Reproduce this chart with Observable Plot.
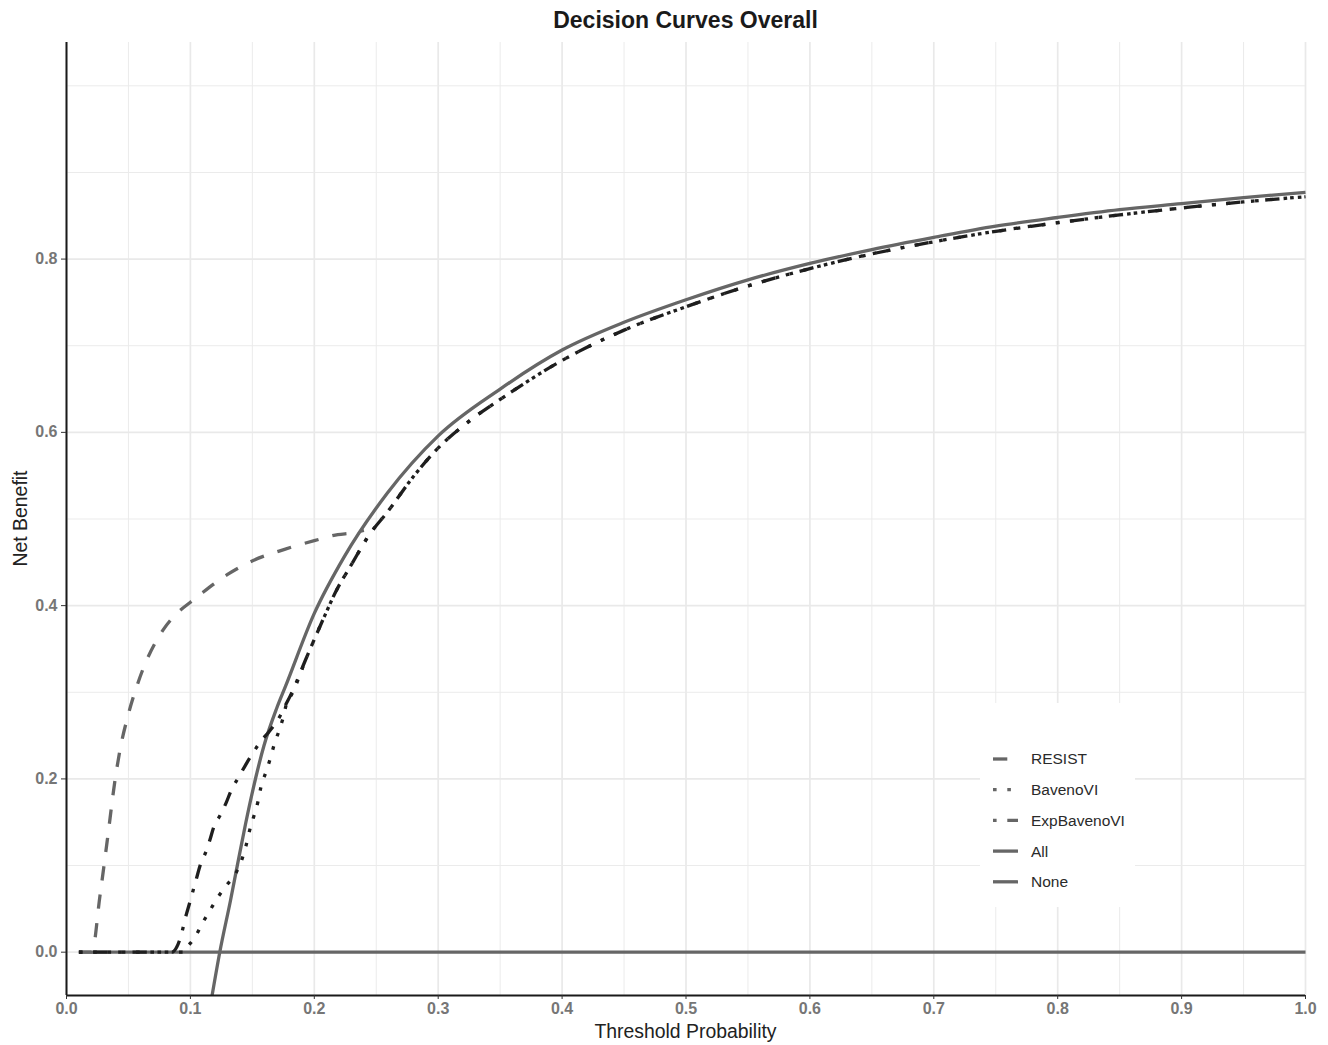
<!DOCTYPE html>
<html>
<head>
<meta charset="utf-8">
<script src="https://cdn.jsdelivr.net/npm/d3@7"></script>
<script src="https://cdn.jsdelivr.net/npm/@observablehq/plot@0.6"></script>
<style>
  body { margin: 0; background: #fff; }
  #wrap { position: relative; width: 1328px; height: 1045px; }
</style>
</head>
<body>
<div id="wrap"></div>
<script>
// ---- data ----
const seriesNames = ["RESIST", "BavenoVI", "ExpBavenoVI", "All", "None"];

const resistX = [0.01, 0.0205, 0.027, 0.033, 0.039, 0.043, 0.05, 0.057, 0.065, 0.072, 0.078, 0.089, 0.1, 0.108, 0.13, 0.149, 0.176, 0.2, 0.219, 0.231, 0.24];
const resistY = [0, 0, 0.065, 0.13, 0.197, 0.232, 0.275, 0.308, 0.338, 0.358, 0.372, 0.391, 0.404, 0.413, 0.436, 0.451, 0.465, 0.475, 0.482, 0.484, 0.487];

const bavenoX = [0.01, 0.095, 0.0966, 0.1036, 0.1095, 0.1157, 0.122, 0.129, 0.1366, 0.1418, 0.145, 0.1477, 0.1512, 0.1544, 0.157, 0.161, 0.1646, 0.1679, 0.1719, 0.1749, 0.178, 0.1815, 0.194, 0.208, 0.218, 0.229, 0.245, 0.259, 0.28, 0.3, 0.326, 0.35, 0.4, 0.45, 0.5, 0.55, 0.6, 0.65, 0.7, 0.75, 0.8, 0.85, 0.9, 0.95, 1.0];
const bavenoY = [0, 0, 0.004, 0.017, 0.033, 0.048, 0.063, 0.077, 0.091, 0.108, 0.1235, 0.14, 0.157, 0.173, 0.191, 0.208, 0.224, 0.241, 0.257, 0.271, 0.289, 0.297, 0.341, 0.387, 0.418, 0.445, 0.483, 0.508, 0.549, 0.582, 0.614, 0.638, 0.683, 0.718, 0.745, 0.769, 0.789, 0.806, 0.820, 0.832, 0.842, 0.851, 0.859, 0.866, 0.872];

const expBavenoX = [0.01, 0.085, 0.089, 0.093, 0.0955, 0.1, 0.1045, 0.109, 0.112, 0.1154, 0.119, 0.124, 0.129, 0.133, 0.139, 0.1445, 0.150, 0.1566, 0.1638, 0.1727, 0.176, 0.181, 0.194, 0.208, 0.218, 0.229, 0.245, 0.259, 0.28, 0.3, 0.326, 0.35, 0.4, 0.45, 0.5, 0.55, 0.6, 0.65, 0.7, 0.75, 0.8, 0.85, 0.9, 0.95, 1.0];
const expBavenoY = [0, 0, 0.006, 0.022, 0.037, 0.06, 0.083, 0.105, 0.114, 0.128, 0.145, 0.158, 0.173, 0.187, 0.202, 0.216, 0.229, 0.243, 0.255, 0.2735, 0.283, 0.297, 0.341, 0.387, 0.418, 0.445, 0.483, 0.508, 0.549, 0.582, 0.614, 0.638, 0.683, 0.718, 0.745, 0.769, 0.789, 0.806, 0.820, 0.832, 0.842, 0.851, 0.859, 0.866, 0.872];

const allX = [0.1175, 0.1237, 0.1324, 0.138, 0.1445, 0.1512, 0.1593, 0.1695, 0.1768, 0.2, 0.224, 0.259, 0.3, 0.35, 0.4, 0.45, 0.5, 0.55, 0.6, 0.65, 0.7, 0.75, 0.8, 0.85, 0.9, 0.95, 1.0];
const allY = [-0.05, 0, 0.06, 0.101, 0.148, 0.192, 0.238, 0.281, 0.307, 0.391, 0.456, 0.530, 0.596, 0.650, 0.695, 0.727, 0.753, 0.776, 0.795, 0.811, 0.825, 0.838, 0.848, 0.857, 0.864, 0.871, 0.877];

const noneX = [0.01, 1.0];
const noneY = [0, 0];

const xTicks = [0, 0.1, 0.2, 0.3, 0.4, 0.5, 0.6, 0.7, 0.8, 0.9, 1.0];
const xMinor = [0.05, 0.15, 0.25, 0.35, 0.45, 0.55, 0.65, 0.75, 0.85, 0.95];
const yTicks = [0, 0.2, 0.4, 0.6, 0.8];
const yMinor = [0.1, 0.3, 0.5, 0.7, 0.9, 1.0];
const xDomain = [0, 1];
const yDomain = [-0.05, 1.05];

// ---- build ----
const rows = (xs, ys) => xs.map((x, i) => ({x, y: ys[i]}));
const gray = "#666666";
const dark = "#1e1e1e";
const lw = 3.3;
const dashes = {
  RESIST: "14.3,14.3",
  BavenoVI: "3.6,10.7",
  ExpBavenoVI: "3.6,10.7,14.3,10.7",
  All: null,
  None: null
};
const font = "'Liberation Sans', Arial, Helvetica, sans-serif";
const curve = "monotone-x";

const chart = Plot.plot({
  width: 1328,
  height: 1045,
  marginLeft: 66,
  marginRight: 23,
  marginTop: 42,
  marginBottom: 50,
  style: {fontFamily: font, background: "#fff", overflow: "visible"},
  x: {domain: xDomain},
  y: {domain: yDomain},
  marks: [
    Plot.gridX(xMinor, {stroke: "#ebebeb", strokeOpacity: 1, strokeWidth: 1}),
    Plot.gridX(xTicks, {stroke: "#e9e9e9", strokeOpacity: 1, strokeWidth: 1.7}),
    Plot.gridY(yMinor, {stroke: "#ebebeb", strokeOpacity: 1, strokeWidth: 1}),
    Plot.gridY(yTicks, {stroke: "#e9e9e9", strokeOpacity: 1, strokeWidth: 1.7}),
    Plot.line(rows(noneX, noneY), {x: "x", y: "y", stroke: gray, strokeWidth: lw, strokeLinecap: "butt"}),
    Plot.line(rows(allX, allY), {x: "x", y: "y", stroke: gray, strokeWidth: lw, strokeLinecap: "butt", curve}),
    Plot.line(rows(resistX, resistY), {x: "x", y: "y", stroke: gray, strokeWidth: lw, strokeLinecap: "butt", strokeDasharray: dashes.RESIST, curve}),
    Plot.line(rows(bavenoX, bavenoY), {x: "x", y: "y", stroke: dark, strokeWidth: lw, strokeLinecap: "butt", strokeDasharray: dashes.BavenoVI, curve}),
    Plot.line(rows(expBavenoX, expBavenoY), {x: "x", y: "y", stroke: dark, strokeWidth: lw, strokeLinecap: "butt", strokeDasharray: dashes.ExpBavenoVI, curve}),
    Plot.ruleX([xDomain[0]], {stroke: "#1a1a1a", strokeWidth: 2}),
    Plot.ruleY([yDomain[0]], {stroke: "#1a1a1a", strokeWidth: 2}),
    Plot.axisX(xTicks, {tickSize: 4, tickPadding: 3, tickFormat: d3.format(".1f"), label: null,
      fontSize: 16, fontWeight: "bold", fill: "#767676", stroke: "#333"}),
    Plot.axisY(yTicks, {tickSize: 5, tickPadding: 4, tickFormat: d3.format(".1f"), label: null,
      fontSize: 16, fontWeight: "bold", fill: "#767676", stroke: "#333"})
  ]
});

document.getElementById("wrap").appendChild(chart);

// ---- titles and legend (text as real SVG text) ----
const svg = d3.select(chart);
const midX = (66 + 1305) / 2;

svg.append("text")
  .attr("x", midX).attr("y", 28)
  .attr("text-anchor", "middle")
  .attr("font-family", font).attr("font-size", 23).attr("font-weight", "bold")
  .attr("fill", "#1a1a1a")
  .text("Decision Curves Overall");

svg.append("text")
  .attr("x", midX).attr("y", 1038)
  .attr("text-anchor", "middle")
  .attr("font-family", font).attr("font-size", 19.4)
  .attr("fill", "#222")
  .text("Threshold Probability");

svg.append("text")
  .attr("transform", `translate(27,${(42 + 995) / 2}) rotate(-90)`)
  .attr("text-anchor", "middle")
  .attr("font-family", font).attr("font-size", 19.4)
  .attr("fill", "#222")
  .text("Net Benefit");

const leg = svg.append("g");
leg.append("rect").attr("x", 980).attr("y", 703).attr("width", 155).attr("height", 204).attr("fill", "#fff");
seriesNames.forEach((name, i) => {
  const cy = 759 + i * 30.7;
  leg.append("line")
    .attr("x1", 993).attr("x2", 1018).attr("y1", cy).attr("y2", cy)
    .attr("stroke", gray).attr("stroke-width", lw).attr("stroke-linecap", "butt")
    .attr("stroke-dasharray", dashes[name]);
  leg.append("text")
    .attr("x", 1031).attr("y", cy).attr("dy", "0.35em")
    .attr("text-anchor", "start")
    .attr("font-family", font).attr("font-size", 15.5)
    .attr("fill", "#2a2a2a")
    .text(name);
});
</script>
</body>
</html>
